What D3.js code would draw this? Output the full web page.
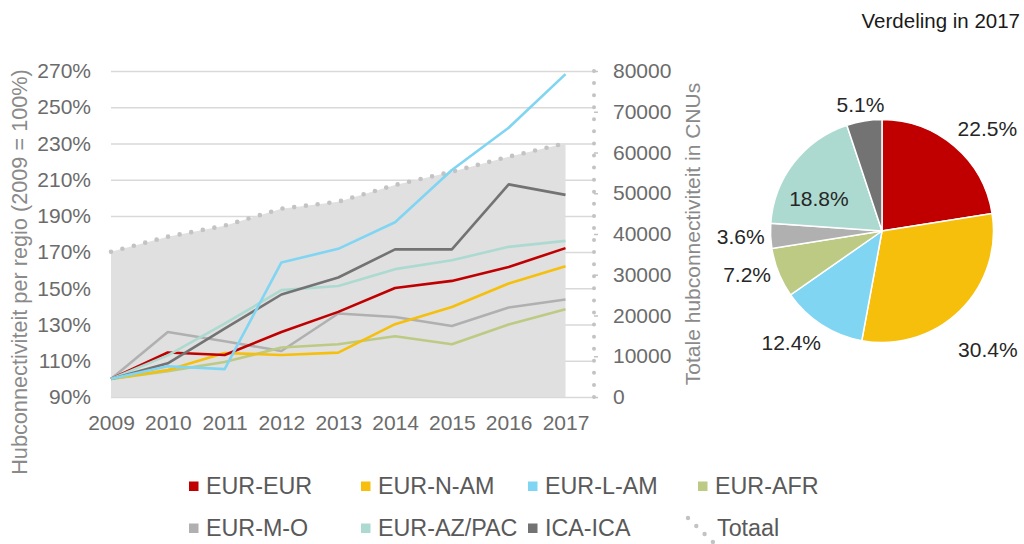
<!DOCTYPE html>
<html><head><meta charset="utf-8">
<script src="https://cdn.jsdelivr.net/npm/d3@7"></script>
<style>
body{margin:0;background:#fff;}
text{font-family:"Liberation Sans",Arial,sans-serif;}
</style>
</head><body>
<svg id="c" width="1024" height="544"></svg>
<script>
// ---------------- DATA ----------------
const years = [2009, 2010, 2011, 2012, 2013, 2014, 2015, 2016, 2017];
const seriesNames = ["EUR-EUR", "EUR-N-AM", "EUR-L-AM", "EUR-AFR", "EUR-M-O", "EUR-AZ/PAC", "ICA-ICA"];
const eurEur   = [100, 114.6, 113.2, 125.9, 137.0, 150.2, 154.1, 161.8, 172.2];
const eurNAm   = [100, 104.9, 114.3, 113.2, 114.5, 130.2, 139.7, 152.7, 162.2];
const eurLAm   = [100, 107.0, 105.4, 164.3, 171.8, 186.5, 215.3, 238.7, 268.3];
const eurAfr   = [100, 104.3, 109.3, 117.3, 119.1, 123.5, 119.1, 130.0, 138.5];
const eurMO    = [100, 125.9, 120.8, 115.4, 136.1, 134.2, 129.2, 139.4, 143.8];
const eurAzPac = [100, 113.0, 130.5, 149.0, 151.3, 160.6, 165.5, 172.9, 176.2];
const icaIca   = [100, 108.6, 127.8, 146.6, 156.0, 171.5, 171.5, 207.4, 201.6];
const totaal   = [35650, 39340, 42040, 46210, 47930, 52020, 55290, 58970, 62260];
const leftTicks  = [90, 110, 130, 150, 170, 190, 210, 230, 250, 270];
const rightTicks = [0, 10000, 20000, 30000, 40000, 50000, 60000, 70000, 80000];
const pieShares = [22.5, 30.4, 12.4, 7.2, 3.6, 18.8, 5.1];
const pieTitle = "Verdeling in 2017";
const leftTitle = "Hubconnectiviteit per regio (2009 = 100%)";
const rightTitle = "Totale hubconnectiviteit in CNUs";
const totaalName = "Totaal";

// ---------------- STYLE / LAYOUT ----------------
const colors = ["#c00000", "#f6bf0c", "#80d5f3", "#bdca84", "#b0b0b0", "#acdad0", "#737373"];
const seriesValues = [eurEur, eurNAm, eurLAm, eurAfr, eurMO, eurAzPac, icaIca];
const drawOrder = [4, 3, 1, 0, 5, 6, 2];
// per-label nudges for the pie labels (layout only)
const labelInside = [false, false, false, false, false, true, false];
const labelNudgeX = [0, -6, -3, -2, 0, -8, 3];
const labelNudgeY = [-3, 24, 2, -6, 0, 10, 0];

const svg = d3.select("#c");
const plotL = 111, plotR = 594, plotT = 71, plotB = 397;

const x = d3.scalePoint().domain(years).range([111, 565.5]);
const yL = d3.scaleLinear().domain([90, 270]).range([plotB, plotT]);
const yR = d3.scaleLinear().domain([0, 80000]).range([plotB, plotT]);

// gridlines
const grid = svg.append("g").attr("transform", `translate(${plotR},0)`)
  .call(d3.axisLeft(yL).tickValues(leftTicks).tickSize(plotR - plotL).tickFormat(""));
grid.select(".domain").remove();
grid.selectAll("line").attr("stroke", "#d9d9d9").attr("stroke-width", 1.5);

// area (Totaal)
const area = d3.area().x((d, i) => x(years[i])).y0(yR(0)).y1(d => yR(d));
svg.append("path").datum(totaal).attr("d", area).attr("fill", "#e0e0e0");
const topLine = d3.line().x((d, i) => x(years[i])).y(d => yR(d));
svg.append("path").datum(totaal).attr("d", topLine).attr("fill", "none")
  .attr("stroke", "#c3c3c3").attr("stroke-width", 4.6).attr("stroke-linecap", "round")
  .attr("stroke-dasharray", "0,11.8");

// series lines
const line = d3.line().x((d, i) => x(years[i])).y(d => yL(d));
drawOrder.forEach(k => {
  svg.append("path").datum(seriesValues[k]).attr("d", line).attr("fill", "none")
    .attr("stroke", colors[k]).attr("stroke-width", 2.6).attr("stroke-linejoin", "round");
});

// right axis dotted line
svg.append("line").attr("x1", plotR).attr("x2", plotR).attr("y1", yR(80000)).attr("y2", yR(0))
  .attr("stroke", "#c3c3c3").attr("stroke-width", 4).attr("stroke-linecap", "round")
  .attr("stroke-dasharray", `0,${(plotB - plotT) / 27}`);

// left axis
const axL = svg.append("g").attr("transform", `translate(${plotL},0)`)
  .call(d3.axisLeft(yL).tickValues(leftTicks).tickSize(0).tickPadding(20).tickFormat(d => d + "%"));
axL.select(".domain").remove();
axL.selectAll("text").attr("font-size", 21).attr("fill", "#6b6b6b").attr("font-family", "Liberation Sans, Arial, sans-serif");

// right axis
const axR = svg.append("g").attr("transform", `translate(${plotR},0)`)
  .call(d3.axisRight(yR).tickValues(rightTicks).tickSize(4).tickPadding(15).tickFormat(d3.format("d")));
axR.select(".domain").remove();
axR.selectAll("line").attr("stroke", "#c3c3c3").attr("stroke-width", 1.5);
axR.selectAll("text").attr("font-size", 21).attr("fill", "#6b6b6b").attr("font-family", "Liberation Sans, Arial, sans-serif");

// x axis
const axX = svg.append("g").attr("transform", `translate(0,${plotB})`)
  .call(d3.axisBottom(x).tickSize(0).tickPadding(18).tickFormat(d3.format("d")));
axX.select(".domain").remove();
axX.selectAll("text").attr("font-size", 21).attr("fill", "#6b6b6b").attr("font-family", "Liberation Sans, Arial, sans-serif");

// axis titles
svg.append("text").attr("transform", "translate(19,272) rotate(-90)")
  .attr("text-anchor", "middle").attr("dy", "0.35em").attr("font-size", 21.7).attr("fill", "#8a8a8a")
  .text(leftTitle);
svg.append("text").attr("transform", "translate(693,234) rotate(-90)")
  .attr("text-anchor", "middle").attr("dy", "0.35em").attr("font-size", 21).attr("fill", "#8a8a8a")
  .text(rightTitle);

// legend
const legX = [206, 378, 545, 715];
const legY = [486, 528];
seriesNames.forEach((name, i) => {
  const col = i % 4, row = Math.floor(i / 4);
  const g = svg.append("g").attr("transform", `translate(${legX[col]},${legY[row]})`);
  g.append("rect").attr("x", -17).attr("y", -4.5).attr("width", 9.5).attr("height", 9.5).attr("fill", colors[i]);
  g.append("text").attr("x", 0).attr("dy", "0.35em").attr("font-size", 23.3).attr("fill", "#595959").text(name);
});
{
  const g = svg.append("g").attr("transform", `translate(${legX[3]},${legY[1]})`);
  g.append("line").attr("x1", -27).attr("y1", -10).attr("x2", -2).attr("y2", 14)
    .attr("stroke", "#c3c3c3").attr("stroke-width", 4.4).attr("stroke-linecap", "round")
    .attr("stroke-dasharray", "0,11.5");
  g.append("text").attr("x", 2).attr("dy", "0.35em").attr("font-size", 23.3).attr("fill", "#595959").text(totaalName);
}

// pie
const pcx = 882, pcy = 231, pr = 111.5;
const pie = d3.pie().sort(null).value(d => d).startAngle(0).endAngle(2 * Math.PI);
const arcs = pie(pieShares);
const arc = d3.arc().innerRadius(0).outerRadius(pr);
const pg = svg.append("g").attr("transform", `translate(${pcx},${pcy})`);
pg.selectAll("path").data(arcs).join("path").attr("d", arc)
  .attr("fill", (d, i) => colors[i]).attr("stroke", "#fff").attr("stroke-width", 1.5);

const fmt = d => d3.format(".1f")(d) + "%";
const innerLabelArc = d3.arc().innerRadius(0).outerRadius(pr * 1.25);
pg.selectAll("text.lbl").data(arcs).join("text").attr("class", "lbl")
  .attr("font-size", 21).attr("fill", "#262626").attr("text-anchor", "middle").attr("dy", "0.35em")
  .text(d => fmt(d.data))
  .each(function (d, i) {
    const a = (d.startAngle + d.endAngle) / 2;
    const s = Math.sin(a), c = Math.cos(a);
    let px, py;
    if (labelInside[i]) {
      [px, py] = innerLabelArc.centroid(d);
    } else {
      const w = this.getComputedTextLength(), h = 21;
      const R = pr + 6;
      const cl = v => Math.max(-1, Math.min(1, v));
      px = R * s + (w / 2) * cl(s * 1.5);
      py = -R * c - (h / 2) * cl(c * 1.5);
    }
    d3.select(this).attr("x", px + labelNudgeX[i]).attr("y", py + labelNudgeY[i]);
  });

svg.append("text").attr("x", 1020).attr("y", 28).attr("text-anchor", "end")
  .attr("font-size", 20.5).attr("fill", "#1a1a1a").text(pieTitle);
</script>
</body></html>
